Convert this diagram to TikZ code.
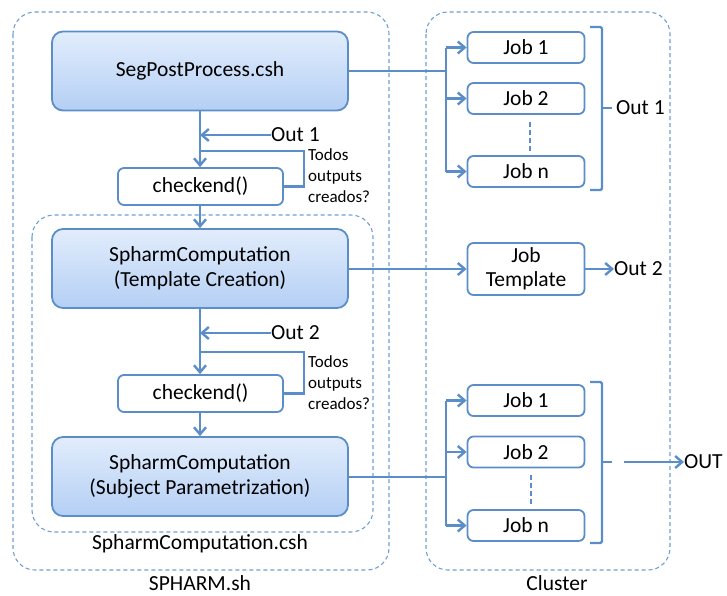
\documentclass[tikz,border=0pt]{standalone}
\usepackage{fontspec}
\setmainfont{Carlito}
\usetikzlibrary{arrows.meta}
\definecolor{edgeblue}{HTML}{5B8DC8}
\definecolor{dashblue}{HTML}{6F9FD6}
\definecolor{filltop}{HTML}{E2EDFC}
\definecolor{fillbot}{HTML}{B4CFF4}
\tikzset{
  bigfont/.style={font=\fontsize{21.5}{25}\selectfont},
  smallfont/.style={font=\fontsize{17}{21}\selectfont},
  procbox/.style={draw=edgeblue, line width=1.8pt, rounded corners=11pt,
    top color=filltop, bottom color=fillbot, minimum width=296pt,
    minimum height=79pt, align=center, bigfont, inner sep=0pt},
  checkbox/.style={draw=edgeblue, line width=1.8pt, rounded corners=6pt,
    fill=white, minimum width=165pt, minimum height=37pt, bigfont, inner sep=0pt},
  jobbox/.style={draw=edgeblue, line width=1.8pt, rounded corners=6pt,
    fill=white, minimum width=117pt, minimum height=31pt, bigfont,
    align=center, inner sep=0pt},
  groupbox/.style={draw=dashblue, line width=1.1pt, dash pattern=on 4pt off 3pt,
    rounded corners=22pt},
  conn/.style={draw=edgeblue, line width=2.4pt},
  arr/.style={conn, -{Straight Barb[length=7pt,width=12pt]}},
  dots/.style={draw=edgeblue, line width=1.5pt, dash pattern=on 5pt off 3pt},
  lbl/.style={bigfont, inner sep=0pt},
}
\begin{document}
\begin{tikzpicture}[x=1pt,y=-1pt]
\useasboundingbox (0,0) rectangle (727,595);

% enclosing groups
\draw[groupbox] (13,12) rectangle (389,570);
\draw[groupbox] (32,215) rectangle (373,532);
\draw[groupbox] (426,12) rectangle (670,570);
\node[lbl] (lspharm) at (200,583) {SPHARM.sh};
\node[lbl] (lcsh) at (200,544) {SpharmComputation.csh};
\node[lbl] (lcluster) at (557,583) {Cluster};

% main pipeline
\node[procbox] (seg) at (200,71) {SegPostProcess.csh};
\node[checkbox] (ck1) at (200.5,186.5) {checkend()};
\node[procbox] (sp1) at (200,268.5) {SpharmComputation\\(Template Creation)};
\node[checkbox] (ck2) at (200.5,393.5) {checkend()};
\node[procbox] (sp2) at (200,476.5) {SpharmComputation\\(Subject Parametrization)};

\draw[arr] (seg.south) -- (seg.south |- ck1.north);
\draw[arr] (ck1.south -| seg.south) -- (sp1.north);
\draw[arr] (sp1.south) -- (sp1.south |- ck2.north);
\draw[arr] (ck2.south -| sp1.south) -- (sp2.north);

% results arriving back and completion checks
\node[lbl, anchor=west] (in1) at (271,135) {Out 1};
\draw[arr] (in1.west) -- (in1.west -| seg.south);
\coordinate (loop1) at (200,151);
\draw[conn] (ck1.east) -- ++(20,0) |- (loop1);
\node[smallfont, anchor=west, align=left, inner sep=0pt] (q1) at (308,176)
  {Todos\\outputs\\creados?};

\node[lbl, anchor=west] (in2) at (271,333) {Out 2};
\draw[arr] (in2.west) -- (in2.west -| sp1.south);
\coordinate (loop2) at (200,352);
\draw[conn] (ck2.east) -- ++(20,0) |- (loop2);
\node[smallfont, anchor=west, align=left, inner sep=0pt] (q2) at (308,383)
  {Todos\\outputs\\creados?};

% cluster jobs, first stage
\node[jobbox] (ja1) at (526,47.5) {Job 1};
\node[jobbox] (ja2) at (526,98.5) {Job 2};
\node[jobbox] (jan) at (526,171.5) {Job n};
\coordinate (forka) at (446,71);
\draw[conn] (seg.east |- forka) -- (forka);
\draw[conn] (forka |- ja1.west) -- (forka |- jan.west);
\draw[arr] (forka |- ja1.west) -- (ja1.west);
\draw[arr] (forka |- ja2.west) -- (ja2.west);
\draw[arr] (forka |- jan.west) -- (jan.west);
\draw[dots] (530,122) -- (530,151);
\draw[conn, line width=2.2pt, rounded corners=1.5pt] (590,27) -- (602,27) -- (602,190) -- (590,190);
\draw[conn, line width=2.2pt] (602,108) -- (612,108);
\node[lbl, anchor=west] (outa) at (616,108) {Out 1};

% cluster jobs, template
\node[jobbox, minimum height=52pt, font=\fontsize{21.5}{24}\selectfont] (jt) at (526,269) {Job\\Template};
\draw[arr] (sp1.east |- jt.west) -- (jt.west);
\node[lbl, anchor=west] (outt) at (614,269) {Out 2};
\draw[arr] (jt.east) -- (outt.west);

% cluster jobs, subject stage
\node[jobbox] (jb1) at (526,400.5) {Job 1};
\node[jobbox] (jb2) at (526,452) {Job 2};
\node[jobbox] (jbn) at (526,525.5) {Job n};
\coordinate (forkb) at (446,477);
\draw[conn] (sp2.east |- forkb) -- (forkb);
\draw[conn] (forkb |- jb1.west) -- (forkb |- jbn.west);
\draw[arr] (forkb |- jb1.west) -- (jb1.west);
\draw[arr] (forkb |- jb2.west) -- (jb2.west);
\draw[arr] (forkb |- jbn.west) -- (jbn.west);
\draw[dots] (531,475) -- (531,504);
\draw[conn, line width=2.2pt, rounded corners=1.5pt] (590,382) -- (602,382) -- (602,543) -- (590,543);
\draw[conn, line width=2.2pt] (602,462) -- (612,462);
\coordinate (outstart) at (624,462);
\node[lbl, anchor=west] (outb) at (684,462) {OUT};
\draw[arr] (outstart) -- (outb.west);
\end{tikzpicture}
\end{document}
